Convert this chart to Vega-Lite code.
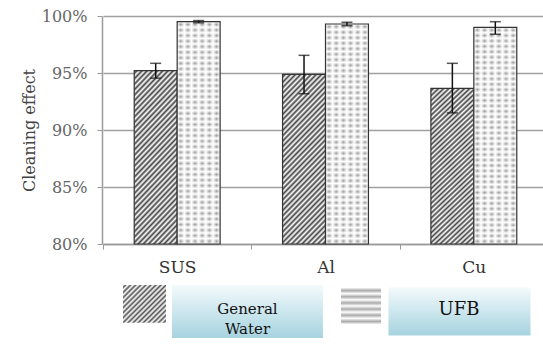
{
  "$schema": "https://vega.github.io/schema/vega-lite/v6.json",
  "width": 441,
  "height": 228,
  "autosize": {"type": "none"},
  "padding": {"left": 102, "top": 16, "right": 0, "bottom": 101},
  "background": "white",
  "config": {"view": {"stroke": null}},
  "data": {
    "values": [
      {"metal": "SUS", "group": "General Water", "value": 0.952, "low": 0.9455, "high": 0.9585},
      {"metal": "SUS", "group": "UFB", "value": 0.995, "low": 0.994, "high": 0.996},
      {"metal": "Al", "group": "General Water", "value": 0.9488, "low": 0.9318, "high": 0.9655},
      {"metal": "Al", "group": "UFB", "value": 0.993, "low": 0.9915, "high": 0.9945},
      {"metal": "Cu", "group": "General Water", "value": 0.9365, "low": 0.915, "high": 0.9585},
      {"metal": "Cu", "group": "UFB", "value": 0.990, "low": 0.984, "high": 0.995}
    ]
  },
  "encoding": {
    "x": {
      "field": "metal", "type": "nominal", "sort": ["SUS", "Al", "Cu"],
      "scale": {"range": [1, 446], "paddingInner": 0, "paddingOuter": 0},
      "axis": {"title": null, "labelAngle": 0, "labelFont": "DejaVu Serif", "labelFontSize": 17, "labelColor": "#333", "labelPadding": 10, "tickBand": "extent", "tickSize": 5, "tickColor": "#999", "domainColor": "#999", "domainWidth": 1.5, "grid": false}
    },
    "xOffset": {
      "field": "group", "type": "nominal",
      "scale": {"domain": ["General Water", "UFB"], "paddingInner": 0, "paddingOuter": 0.727}
    },
    "y": {
      "field": "value", "type": "quantitative",
      "scale": {"domain": [0.8, 1], "zero": false},
      "axis": {"values": [0.8, 0.85, 0.9, 0.95, 1], "format": ".0%", "title": "Cleaning effect", "titleFont": "DejaVu Serif", "titleFontSize": 16, "titleFontWeight": "normal", "titleColor": "#444", "titlePadding": 4, "labelFont": "DejaVu Serif", "labelFontSize": 16, "labelColor": "#666", "labelPadding": 10, "tickSize": 5, "tickColor": "#999", "domainColor": "#999", "domainWidth": 1.5, "gridColor": "#a0a0a0", "gridWidth": 1.5}
    }
  },
  "layer": [
    {
      "mark": {"type": "bar", "fill": "white"},
      "encoding": {
        "y2": {"datum": 0.8},
        "opacity": {
          "field": "group", "type": "nominal",
          "scale": {"domain": ["General Water", "UFB"], "range": [1, 1]},
          "legend": {
            "orient": "none", "legendX": 70, "legendY": 269, "direction": "horizontal", "title": null,
            "symbolType": "M8.302,1.465M-1,-1H1V0.76H-1Z", "symbolSize": 1849, "symbolStrokeWidth": 0, "symbolOffset": -49,
            "labelOffset": 32.5, "labelAlign": "center", "labelFont": "DejaVu Serif", "labelFontSize": 15, "labelColor": "#111", "labelLimit": 0,
            "labelExpr": "datum.label === 'General Water' ? ['General', 'Water'] : datum.label",
            "columnPadding": 17.5, "padding": 0,
            "encoding": {
              "entries": {
                "fill": {"value": {"gradient": "linear", "x1": 0, "y1": 0, "x2": 0, "y2": 1, "stops": [{"offset": 0, "color": "#f3fafc"}, {"offset": 1, "color": "#a6d3df"}]}}
              },
              "labels": {
                "x": {"condition": {"test": "datum.value === 'UFB'", "value": 70.5}, "value": 75.5},
                "y": {"condition": {"test": "datum.value === 'UFB'", "value": 23}, "value": 24},
                "fontSize": {"condition": {"test": "datum.value === 'UFB'", "value": 18}, "value": 15},
                "lineHeight": {"value": 20}
              },
              "symbols": {
                "stroke": {"value": "transparent"},
                "shape": {"condition": {"test": "datum.value === 'UFB'", "value": "M7.884,1.233M-0.93,-1H0.93V0.721H-0.93Z"}, "value": "M8.302,1.465M-1,-1H1V0.76H-1Z"},
                "fill": {
                  "condition": {"test": "datum.value === 'UFB'", "value": {"gradient": "linear", "x1": 0, "y1": 0, "x2": 0, "y2": 1, "stops": [
                    {"offset": 0, "color": "#fff"}, {"offset": 0.0833, "color": "#aaa"}, {"offset": 0.1667, "color": "#fff"}, {"offset": 0.25, "color": "#aaa"}, {"offset": 0.3333, "color": "#fff"}, {"offset": 0.4167, "color": "#aaa"}, {"offset": 0.5, "color": "#fff"}, {"offset": 0.5833, "color": "#aaa"}, {"offset": 0.6667, "color": "#fff"}, {"offset": 0.75, "color": "#aaa"}, {"offset": 0.8333, "color": "#fff"}, {"offset": 0.9167, "color": "#aaa"}, {"offset": 1, "color": "#fff"}
                  ]}},
                  "value": {"gradient": "linear", "x1": 0, "y1": 0, "x2": 1.057, "y2": 0.935, "stops": [
                    {"offset": 0, "color": "#fff"}, {"offset": 0.03125, "color": "#555"}, {"offset": 0.0625, "color": "#fff"}, {"offset": 0.09375, "color": "#555"}, {"offset": 0.125, "color": "#fff"}, {"offset": 0.15625, "color": "#555"}, {"offset": 0.1875, "color": "#fff"}, {"offset": 0.21875, "color": "#555"}, {"offset": 0.25, "color": "#fff"}, {"offset": 0.28125, "color": "#555"}, {"offset": 0.3125, "color": "#fff"},
                    {"offset": 0.34375, "color": "#555"}, {"offset": 0.375, "color": "#fff"}, {"offset": 0.40625, "color": "#555"}, {"offset": 0.4375, "color": "#fff"}, {"offset": 0.46875, "color": "#555"}, {"offset": 0.5, "color": "#fff"}, {"offset": 0.53125, "color": "#555"}, {"offset": 0.5625, "color": "#fff"}, {"offset": 0.59375, "color": "#555"}, {"offset": 0.625, "color": "#fff"}, {"offset": 0.65625, "color": "#555"},
                    {"offset": 0.6875, "color": "#fff"}, {"offset": 0.71875, "color": "#555"}, {"offset": 0.75, "color": "#fff"}, {"offset": 0.78125, "color": "#555"}, {"offset": 0.8125, "color": "#fff"}, {"offset": 0.84375, "color": "#555"}, {"offset": 0.875, "color": "#fff"}, {"offset": 0.90625, "color": "#555"}, {"offset": 0.9375, "color": "#fff"}, {"offset": 0.96875, "color": "#555"}, {"offset": 1, "color": "#fff"}
                  ]}
                }
              }
            }
          }
        }
      }
    },
    {
      "transform": [{"filter": "datum.group === 'General Water'"}],
      "mark": {"type": "bar", "stroke": "#333", "strokeWidth": 1.2, "fill": {"gradient": "linear", "x1": 0, "y1": 0, "x2": 0.307, "y2": 1.18, "stops": [
        {"offset": 0, "color": "#fff"}, {"offset": 0.0125, "color": "#444"}, {"offset": 0.025, "color": "#fff"}, {"offset": 0.0375, "color": "#444"}, {"offset": 0.05, "color": "#fff"}, {"offset": 0.0625, "color": "#444"}, {"offset": 0.075, "color": "#fff"}, {"offset": 0.0875, "color": "#444"}, {"offset": 0.1, "color": "#fff"}, {"offset": 0.1125, "color": "#444"},
        {"offset": 0.125, "color": "#fff"}, {"offset": 0.1375, "color": "#444"}, {"offset": 0.15, "color": "#fff"}, {"offset": 0.1625, "color": "#444"}, {"offset": 0.175, "color": "#fff"}, {"offset": 0.1875, "color": "#444"}, {"offset": 0.2, "color": "#fff"}, {"offset": 0.2125, "color": "#444"}, {"offset": 0.225, "color": "#fff"}, {"offset": 0.2375, "color": "#444"},
        {"offset": 0.25, "color": "#fff"}, {"offset": 0.2625, "color": "#444"}, {"offset": 0.275, "color": "#fff"}, {"offset": 0.2875, "color": "#444"}, {"offset": 0.3, "color": "#fff"}, {"offset": 0.3125, "color": "#444"}, {"offset": 0.325, "color": "#fff"}, {"offset": 0.3375, "color": "#444"}, {"offset": 0.35, "color": "#fff"}, {"offset": 0.3625, "color": "#444"},
        {"offset": 0.375, "color": "#fff"}, {"offset": 0.3875, "color": "#444"}, {"offset": 0.4, "color": "#fff"}, {"offset": 0.4125, "color": "#444"}, {"offset": 0.425, "color": "#fff"}, {"offset": 0.4375, "color": "#444"}, {"offset": 0.45, "color": "#fff"}, {"offset": 0.4625, "color": "#444"}, {"offset": 0.475, "color": "#fff"}, {"offset": 0.4875, "color": "#444"},
        {"offset": 0.5, "color": "#fff"}, {"offset": 0.5125, "color": "#444"}, {"offset": 0.525, "color": "#fff"}, {"offset": 0.5375, "color": "#444"}, {"offset": 0.55, "color": "#fff"}, {"offset": 0.5625, "color": "#444"}, {"offset": 0.575, "color": "#fff"}, {"offset": 0.5875, "color": "#444"}, {"offset": 0.6, "color": "#fff"}, {"offset": 0.6125, "color": "#444"},
        {"offset": 0.625, "color": "#fff"}, {"offset": 0.6375, "color": "#444"}, {"offset": 0.65, "color": "#fff"}, {"offset": 0.6625, "color": "#444"}, {"offset": 0.675, "color": "#fff"}, {"offset": 0.6875, "color": "#444"}, {"offset": 0.7, "color": "#fff"}, {"offset": 0.7125, "color": "#444"}, {"offset": 0.725, "color": "#fff"}, {"offset": 0.7375, "color": "#444"},
        {"offset": 0.75, "color": "#fff"}, {"offset": 0.7625, "color": "#444"}, {"offset": 0.775, "color": "#fff"}, {"offset": 0.7875, "color": "#444"}, {"offset": 0.8, "color": "#fff"}, {"offset": 0.8125, "color": "#444"}, {"offset": 0.825, "color": "#fff"}, {"offset": 0.8375, "color": "#444"}, {"offset": 0.85, "color": "#fff"}, {"offset": 0.8625, "color": "#444"},
        {"offset": 0.875, "color": "#fff"}, {"offset": 0.8875, "color": "#444"}, {"offset": 0.9, "color": "#fff"}, {"offset": 0.9125, "color": "#444"}, {"offset": 0.925, "color": "#fff"}, {"offset": 0.9375, "color": "#444"}, {"offset": 0.95, "color": "#fff"}, {"offset": 0.9625, "color": "#444"}, {"offset": 0.975, "color": "#fff"}, {"offset": 0.9875, "color": "#444"}, {"offset": 1, "color": "#fff"}
      ]}},
      "encoding": {"y2": {"datum": 0.8}}
    },
    {
      "transform": [{"filter": "datum.group === 'UFB'"}],
      "mark": {"type": "bar", "fill": {"gradient": "linear", "x1": 0, "y1": 0, "x2": 0, "y2": 1, "stops": [
        {"offset": 0, "color": "#fff"}, {"offset": 0.0125, "color": "#999"}, {"offset": 0.025, "color": "#fff"}, {"offset": 0.0375, "color": "#999"}, {"offset": 0.05, "color": "#fff"}, {"offset": 0.0625, "color": "#999"}, {"offset": 0.075, "color": "#fff"}, {"offset": 0.0875, "color": "#999"}, {"offset": 0.1, "color": "#fff"}, {"offset": 0.1125, "color": "#999"},
        {"offset": 0.125, "color": "#fff"}, {"offset": 0.1375, "color": "#999"}, {"offset": 0.15, "color": "#fff"}, {"offset": 0.1625, "color": "#999"}, {"offset": 0.175, "color": "#fff"}, {"offset": 0.1875, "color": "#999"}, {"offset": 0.2, "color": "#fff"}, {"offset": 0.2125, "color": "#999"}, {"offset": 0.225, "color": "#fff"}, {"offset": 0.2375, "color": "#999"},
        {"offset": 0.25, "color": "#fff"}, {"offset": 0.2625, "color": "#999"}, {"offset": 0.275, "color": "#fff"}, {"offset": 0.2875, "color": "#999"}, {"offset": 0.3, "color": "#fff"}, {"offset": 0.3125, "color": "#999"}, {"offset": 0.325, "color": "#fff"}, {"offset": 0.3375, "color": "#999"}, {"offset": 0.35, "color": "#fff"}, {"offset": 0.3625, "color": "#999"},
        {"offset": 0.375, "color": "#fff"}, {"offset": 0.3875, "color": "#999"}, {"offset": 0.4, "color": "#fff"}, {"offset": 0.4125, "color": "#999"}, {"offset": 0.425, "color": "#fff"}, {"offset": 0.4375, "color": "#999"}, {"offset": 0.45, "color": "#fff"}, {"offset": 0.4625, "color": "#999"}, {"offset": 0.475, "color": "#fff"}, {"offset": 0.4875, "color": "#999"},
        {"offset": 0.5, "color": "#fff"}, {"offset": 0.5125, "color": "#999"}, {"offset": 0.525, "color": "#fff"}, {"offset": 0.5375, "color": "#999"}, {"offset": 0.55, "color": "#fff"}, {"offset": 0.5625, "color": "#999"}, {"offset": 0.575, "color": "#fff"}, {"offset": 0.5875, "color": "#999"}, {"offset": 0.6, "color": "#fff"}, {"offset": 0.6125, "color": "#999"},
        {"offset": 0.625, "color": "#fff"}, {"offset": 0.6375, "color": "#999"}, {"offset": 0.65, "color": "#fff"}, {"offset": 0.6625, "color": "#999"}, {"offset": 0.675, "color": "#fff"}, {"offset": 0.6875, "color": "#999"}, {"offset": 0.7, "color": "#fff"}, {"offset": 0.7125, "color": "#999"}, {"offset": 0.725, "color": "#fff"}, {"offset": 0.7375, "color": "#999"},
        {"offset": 0.75, "color": "#fff"}, {"offset": 0.7625, "color": "#999"}, {"offset": 0.775, "color": "#fff"}, {"offset": 0.7875, "color": "#999"}, {"offset": 0.8, "color": "#fff"}, {"offset": 0.8125, "color": "#999"}, {"offset": 0.825, "color": "#fff"}, {"offset": 0.8375, "color": "#999"}, {"offset": 0.85, "color": "#fff"}, {"offset": 0.8625, "color": "#999"},
        {"offset": 0.875, "color": "#fff"}, {"offset": 0.8875, "color": "#999"}, {"offset": 0.9, "color": "#fff"}, {"offset": 0.9125, "color": "#999"}, {"offset": 0.925, "color": "#fff"}, {"offset": 0.9375, "color": "#999"}, {"offset": 0.95, "color": "#fff"}, {"offset": 0.9625, "color": "#999"}, {"offset": 0.975, "color": "#fff"}, {"offset": 0.9875, "color": "#999"}, {"offset": 1, "color": "#fff"}
      ]}},
      "encoding": {"y2": {"datum": 0.8}}
    },
    {
      "transform": [{"filter": "datum.group === 'UFB'"}],
      "mark": {"type": "bar", "stroke": "#333", "strokeWidth": 1.2, "fill": {"gradient": "linear", "x1": 0, "y1": 0, "x2": 1, "y2": 0, "stops": [
        {"offset": 0, "color": "rgba(255,255,255,1)"}, {"offset": 0.0833, "color": "rgba(255,255,255,0)"}, {"offset": 0.1667, "color": "rgba(255,255,255,1)"}, {"offset": 0.25, "color": "rgba(255,255,255,0)"}, {"offset": 0.3333, "color": "rgba(255,255,255,1)"}, {"offset": 0.4167, "color": "rgba(255,255,255,0)"}, {"offset": 0.5, "color": "rgba(255,255,255,1)"}, {"offset": 0.5833, "color": "rgba(255,255,255,0)"}, {"offset": 0.6667, "color": "rgba(255,255,255,1)"}, {"offset": 0.75, "color": "rgba(255,255,255,0)"}, {"offset": 0.8333, "color": "rgba(255,255,255,1)"}, {"offset": 0.9167, "color": "rgba(255,255,255,0)"}, {"offset": 1, "color": "rgba(255,255,255,1)"}
      ]}},
      "encoding": {"y2": {"datum": 0.8}}
    },
    {
      "mark": {"type": "rule", "color": "#111", "strokeWidth": 1.5},
      "encoding": {
        "y": {"field": "low", "type": "quantitative"},
        "y2": {"field": "high"}
      }
    },
    {
      "mark": {"type": "tick", "color": "#111", "thickness": 1.5, "size": 11},
      "encoding": {"y": {"field": "low", "type": "quantitative"}}
    },
    {
      "mark": {"type": "tick", "color": "#111", "thickness": 1.5, "size": 11},
      "encoding": {"y": {"field": "high", "type": "quantitative"}}
    }
  ]
}
